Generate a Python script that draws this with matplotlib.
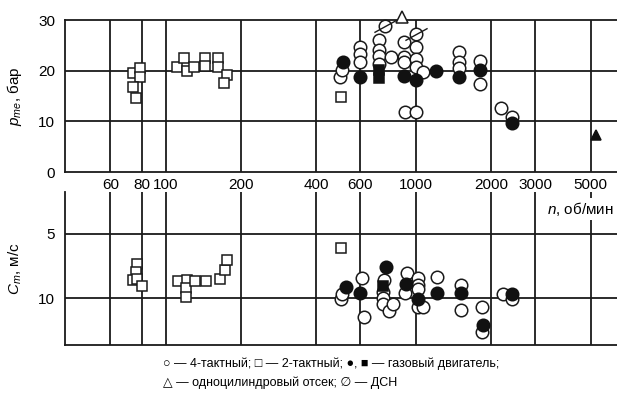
import matplotlib
matplotlib.use("Agg")
import matplotlib.pyplot as plt
from matplotlib import font_manager
from matplotlib.path import Path

names = {f.name for f in font_manager.fontManager.ttflist}
base = "Liberation Sans Narrow" if "Liberation Sans Narrow" in names else "Liberation Sans"
plt.rcParams["font.family"] = [base, "DejaVu Sans"]
plt.rcParams["mathtext.fontset"] = "custom"
plt.rcParams["mathtext.it"] = base + ":italic"
plt.rcParams["mathtext.rm"] = base

# ---- top panel: p_me, bar ----
sq2_n = [74, 79, 79, 74, 76, 111, 118, 121, 130, 144, 144, 162, 162, 176, 171, 503]
sq2_p = [19.5, 20.6, 18.7, 16.8, 14.7, 20.8, 22.5, 20.0, 20.7, 22.5, 21.0, 22.5, 20.8, 19.1, 17.6, 14.9]

c4_n = [497, 505, 598, 598, 598, 713, 713, 713, 713, 792, 896, 896, 896, 903,
        1000, 1000, 1000, 1000, 1063, 1482, 1482, 1482, 1803, 1803, 2188, 2427]
c4_p = [18.7, 20.2, 24.7, 23.3, 21.8, 26.0, 24.1, 22.8, 21.4, 22.6, 25.6, 22.6, 21.8, 11.8,
        24.6, 22.3, 20.8, 11.8, 19.8, 23.7, 21.8, 20.5, 21.9, 17.3, 12.6, 10.9]

gc_n = [513, 598, 896, 1000, 1199, 1482, 1803, 2427]
gc_p = [21.8, 18.7, 18.9, 18.1, 20.0, 18.7, 20.1, 9.6]

gs_n = [713, 713]
gs_p = [20.1, 18.5]

dsn_n = [752, 997]
dsn_p = [28.8, 27.2]

tri_n = [881]
tri_p = [30.5]
tri_f_n = [5250]
tri_f_p = [7.4]

# ---- bottom panel: C_m, m/s ----
sq2_n_b = [77, 76, 74, 77, 80, 112, 122, 120, 120, 131, 145, 164, 173, 176, 503]
sq2_c = [7.37, 7.97, 8.59, 8.49, 9.09, 8.7, 8.57, 9.19, 9.95, 8.65, 8.65, 8.54, 7.81, 7.06, 6.09]

c4_n_b = [503, 505, 608, 618, 742, 740, 738, 741, 782, 809, 922, 903,
          1024, 1024, 1015, 1015, 1068, 1212, 1514, 1514, 1837, 1837, 2234, 2427]
c4_c = [10.1, 9.69, 8.44, 11.5, 8.6, 9.5, 9.97, 10.5, 11.0, 10.5, 8.07, 9.63,
        8.46, 8.95, 9.32, 10.7, 10.7, 8.39, 9.0, 10.94, 10.73, 12.68, 9.69, 10.1]

gc_n_b = [525, 600, 757, 910, 1015, 1212, 1514, 1848, 2427]
gc_c = [9.16, 9.63, 7.6, 8.9, 10.08, 9.63, 9.63, 12.1, 9.69]

gs_n_b = [736]
gs_c = [9.06]

n_grid = [60, 80, 100, 200, 400, 600, 1000, 2000, 3000, 5000]
n_labels = ["60", "80", "100", "200", "400", "600", "1000", "2000", "3000", "5000"]

W, H = 617, 399
fig = plt.figure(figsize=(W / 100, H / 100), dpi=100)


def frac(x0, y0, x1, y1):
    return [x0 / W, 1 - y1 / H, (x1 - x0) / W, (y1 - y0) / H]


ax1 = fig.add_axes(frac(65, 20, 617, 172))
ax2 = fig.add_axes(frac(65, 192, 617, 345))

xmin, xmax = 39.5, 6370
lw = 1.3
ms_c = 9
ms_s = 7
fs = 11

for ax in (ax1, ax2):
    ax.set_xscale("log")
    ax.set_xlim(xmin, xmax)
    ax.minorticks_off()
    for v in n_grid:
        ax.axvline(v, color="#1a1a1a", lw=lw, zorder=1)
    for s in ax.spines.values():
        s.set_linewidth(lw)
        s.set_color("#1a1a1a")
    ax.spines["right"].set_visible(False)
    ax.tick_params(length=0, labelsize=fs)

ax2.spines["top"].set_visible(False)

ax1.set_ylim(0, 30)
ax1.set_yticks([0, 10, 20, 30])
for v in (10, 20):
    ax1.axhline(v, color="#1a1a1a", lw=lw, zorder=1)
ax1.set_xticks(n_grid)
ax1.set_xticklabels(n_labels)
ax1.tick_params(axis="x", pad=4)
ax1.tick_params(axis="y", pad=7)
ax1.set_ylabel("$p_{me}$, бар", fontsize=fs)
ax1.yaxis.set_label_coords(-0.075, 0.5)

ax2.set_ylim(13.67, 1.72)
ax2.set_yticks([5, 10])
for v in (5, 10):
    ax2.axhline(v, color="#1a1a1a", lw=lw, zorder=1)
ax2.set_xticks([])
ax2.tick_params(axis="y", pad=7)
ax2.set_ylabel("$C_m$, м/с", fontsize=fs)
ax2.yaxis.set_label_coords(-0.075, 0.5)

ax2.text(0.995, 0.89, "$n$, об/мин", transform=ax2.transAxes, ha="right", va="center",
         fontsize=fs, zorder=5,
         bbox=dict(facecolor="white", edgecolor="none", pad=1.5))

open_kw = dict(ls="none", mfc="white", mec="#1a1a1a", mew=1.1, zorder=3, clip_on=False)
fill_kw = dict(ls="none", mfc="#111111", mec="#111111", mew=1.1, zorder=4, clip_on=False)
slash = Path([(-1.0, -0.55), (1.0, 0.55)], [Path.MOVETO, Path.LINETO])

ax1.plot(sq2_n, sq2_p, marker="s", ms=ms_s, **open_kw)
ax1.plot(c4_n, c4_p, marker="o", ms=ms_c, **open_kw)
ax1.plot(dsn_n, dsn_p, marker="o", ms=ms_c, **open_kw)
ax1.plot(dsn_n, dsn_p, marker=slash, ms=16, ls="none", mec="#1a1a1a", mew=1.0, zorder=4)
ax1.plot(tri_n, tri_p, marker="^", ms=9, **open_kw)
ax1.plot(gc_n, gc_p, marker="o", ms=ms_c, **fill_kw)
ax1.plot(gs_n, gs_p, marker="s", ms=ms_s + 0.5, **fill_kw)
ax1.plot(tri_f_n, tri_f_p, marker="^", ms=7, **fill_kw)

ax2.plot(sq2_n_b, sq2_c, marker="s", ms=ms_s, **open_kw)
ax2.plot(c4_n_b, c4_c, marker="o", ms=ms_c, **open_kw)
ax2.plot(gc_n_b, gc_c, marker="o", ms=ms_c, **fill_kw)
ax2.plot(gs_n_b, gs_c, marker="s", ms=ms_s + 0.5, **fill_kw)

fig.text(163 / W, 1 - 364 / H, "○ — 4-тактный; □ — 2-тактный; ●, ■ — газовый двигатель;",
         ha="left", va="center", fontsize=9)
fig.text(163 / W, 1 - 383 / H, "△ — одноцилиндровый отсек; ∅ — ДСН",
         ha="left", va="center", fontsize=9)

fig.savefig("out.png", dpi=100)
